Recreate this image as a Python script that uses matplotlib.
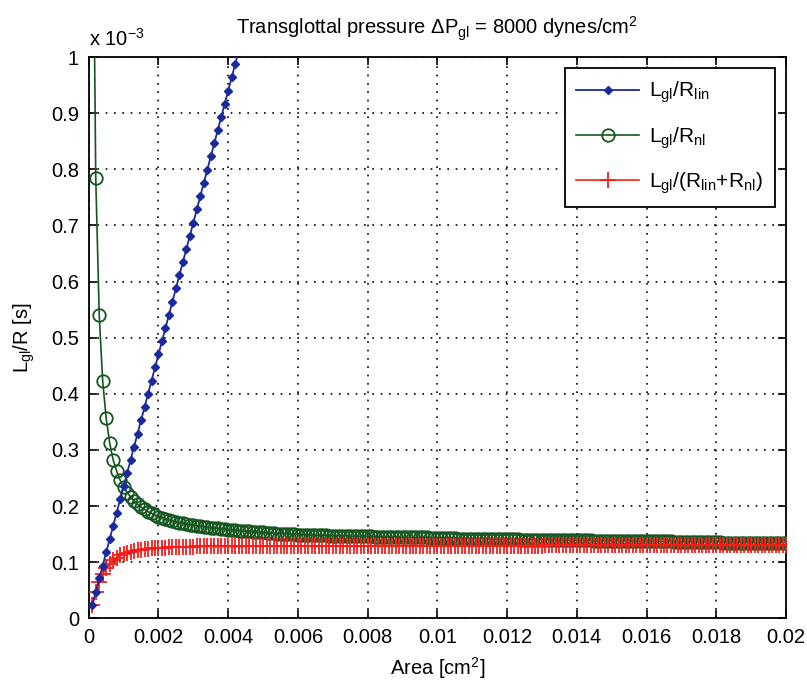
import numpy as np
import matplotlib
matplotlib.use('Agg')
import matplotlib.pyplot as plt
from matplotlib.ticker import FuncFormatter

plt.rcParams['font.family'] = ['Liberation Sans', 'DejaVu Sans']
plt.rcParams['mathtext.fontset'] = 'custom'
plt.rcParams['mathtext.rm'] = 'Liberation Sans'

# glottal area samples [cm^2], step 1e-4
area = np.arange(1, 201) * 1e-4

# L_gl/R_lin [x 1e-3 s] -- only the part up to the top of the axes
lin = [0.024, 0.047, 0.071, 0.094, 0.118, 0.141, 0.165, 0.188, 0.212, 0.235,
       0.259, 0.282, 0.306, 0.329, 0.353, 0.376, 0.400, 0.423, 0.447, 0.470,
       0.494, 0.517, 0.541, 0.564, 0.588, 0.611, 0.635, 0.658, 0.682, 0.705,
       0.729, 0.752, 0.776, 0.799, 0.823, 0.846, 0.870, 0.893, 0.917, 0.940,
       0.964, 0.987, 1.011]

# L_gl/R_nl [x 1e-3 s]
nl = [1.450, 0.785, 0.540, 0.422, 0.356, 0.312, 0.282, 0.262, 0.246, 0.234,
      0.224, 0.216, 0.209, 0.203, 0.198, 0.194, 0.190, 0.187, 0.184, 0.181,
      0.179, 0.177, 0.175, 0.173, 0.172, 0.170, 0.169, 0.168, 0.167, 0.166,
      0.165, 0.164, 0.163, 0.162, 0.161, 0.161, 0.160, 0.159, 0.159, 0.158,
      0.157, 0.157, 0.156, 0.156, 0.155, 0.155, 0.154, 0.154, 0.153, 0.153,
      0.152, 0.152, 0.152, 0.151, 0.151, 0.151, 0.150, 0.150, 0.150, 0.149,
      0.149, 0.149, 0.149, 0.148, 0.148, 0.148, 0.148, 0.148, 0.147, 0.147,
      0.147, 0.147, 0.147, 0.147, 0.146, 0.146, 0.146, 0.146, 0.146, 0.146,
      0.146, 0.145, 0.145, 0.145, 0.145, 0.145, 0.145, 0.145, 0.145, 0.144,
      0.144, 0.144, 0.144, 0.144, 0.144, 0.144, 0.144, 0.143, 0.143, 0.143,
      0.143, 0.143, 0.143, 0.143, 0.143, 0.142, 0.142, 0.142, 0.142, 0.142,
      0.142, 0.142, 0.142, 0.142, 0.141, 0.141, 0.141, 0.141, 0.141, 0.141,
      0.141, 0.141, 0.141, 0.140, 0.140, 0.140, 0.140, 0.140, 0.140, 0.140,
      0.140, 0.140, 0.140, 0.139, 0.139, 0.139, 0.139, 0.139, 0.139, 0.139,
      0.139, 0.139, 0.139, 0.139, 0.138, 0.138, 0.138, 0.138, 0.138, 0.138,
      0.138, 0.138, 0.138, 0.138, 0.138, 0.137, 0.137, 0.137, 0.137, 0.137,
      0.137, 0.137, 0.137, 0.137, 0.137, 0.137, 0.137, 0.136, 0.136, 0.136,
      0.136, 0.136, 0.136, 0.136, 0.136, 0.136, 0.136, 0.136, 0.136, 0.136,
      0.136, 0.135, 0.135, 0.135, 0.135, 0.135, 0.135, 0.135, 0.135, 0.135,
      0.135, 0.135, 0.135, 0.135, 0.135, 0.135, 0.135, 0.135, 0.135, 0.135]

# L_gl/(R_lin+R_nl) [x 1e-3 s]
tot = [0.023, 0.046, 0.065, 0.079, 0.089, 0.097, 0.103, 0.108, 0.112, 0.115,
       0.117, 0.119, 0.120, 0.121, 0.122, 0.123, 0.124, 0.1245, 0.125, 0.1255,
       0.126, 0.126, 0.1265, 0.1265, 0.127, 0.127, 0.127, 0.1275, 0.1275, 0.1275,
       0.128, 0.128, 0.128, 0.128, 0.128, 0.128, 0.128, 0.128, 0.128, 0.128,
       0.128, 0.128, 0.128, 0.128, 0.1285, 0.1285, 0.1285, 0.1285, 0.1285, 0.1285,
       0.1285, 0.1285, 0.1285, 0.1285, 0.1285, 0.1285, 0.1285, 0.1285, 0.129, 0.129,
       0.129, 0.129, 0.129, 0.129, 0.129, 0.129, 0.129, 0.129, 0.129, 0.129,
       0.129, 0.129, 0.129, 0.129, 0.129, 0.129, 0.129, 0.129, 0.129, 0.129,
       0.129, 0.129, 0.129, 0.129, 0.129, 0.129, 0.129, 0.129, 0.129, 0.129,
       0.129, 0.129, 0.129, 0.129, 0.129, 0.129, 0.129, 0.129, 0.129, 0.129,
       0.129, 0.129, 0.129, 0.129, 0.129, 0.129, 0.129, 0.129, 0.129, 0.129,
       0.1295, 0.1295, 0.1295, 0.1295, 0.1295, 0.1295, 0.1295, 0.1295, 0.1295, 0.1295,
       0.1295, 0.1295, 0.1295, 0.1295, 0.1295, 0.1295, 0.1295, 0.1295, 0.1295, 0.1295,
       0.130, 0.130, 0.130, 0.130, 0.130, 0.130, 0.130, 0.130, 0.130, 0.130,
       0.130, 0.130, 0.130, 0.130, 0.130, 0.130, 0.130, 0.130, 0.130, 0.130,
       0.130, 0.130, 0.130, 0.130, 0.130, 0.130, 0.130, 0.130, 0.130, 0.130,
       0.1305, 0.1305, 0.1305, 0.1305, 0.1305, 0.1305, 0.1305, 0.1305, 0.1305, 0.1305,
       0.1305, 0.1305, 0.1305, 0.1305, 0.1305, 0.1305, 0.1305, 0.1305, 0.1305, 0.1305,
       0.131, 0.131, 0.131, 0.131, 0.131, 0.131, 0.131, 0.131, 0.131, 0.131,
       0.131, 0.131, 0.131, 0.131, 0.131, 0.131, 0.131, 0.131, 0.131, 0.131]

fig = plt.figure(figsize=(8.07, 6.87), dpi=100)
ax = fig.add_axes([0.110, 0.100, 0.864, 0.817])

ax.plot(area[:len(lin)], lin, color='#1a2a9c', lw=1.3, marker='D', ms=4.5,
        label=r'$\mathregular{L_{gl}/R_{lin}}$', zorder=4)
ax.plot(area, nl, color='#15561f', lw=1.2, marker='o', ms=9, mfc='none',
        mew=1.3, label=r'$\mathregular{L_{gl}/R_{nl}}$', zorder=3)
ax.plot(area, tot, color='#ff1a1a', lw=1.2, marker='+', ms=12, mew=1.3,
        label=r'$\mathregular{L_{gl}/(R_{lin}{+}R_{nl})}$', zorder=3)

ax.set_xlim(0, 0.02)
ax.set_ylim(0, 1.0)
ax.set_xticks(np.arange(0, 0.0201, 0.002))
ax.set_yticks(np.arange(0, 1.01, 0.1))
ax.xaxis.set_major_formatter(FuncFormatter(lambda v, p: '%g' % round(v, 4)))
ax.yaxis.set_major_formatter(FuncFormatter(lambda v, p: '%g' % round(v, 2)))
ax.tick_params(direction='in', top=True, right=True, length=6, width=1.2,
               labelsize=14.5, pad=7)
ax.grid(True, color='black', ls=(0, (1, 4)), lw=1.2)
for s in ax.spines.values():
    s.set_linewidth(1.3)

ax.set_xlabel(r'Area [cm$^\mathregular{2}$]', fontsize=14.5, labelpad=6)
ax.set_ylabel(r'$\mathregular{L_{gl}}$/R [s]', fontsize=14.5, labelpad=10)
ax.set_title(r'Transglottal pressure $\mathregular{\Delta P_{gl}}$ = 8000 dynes/cm$^\mathregular{2}$',
             fontsize=14.5, pad=16)
ax.text(0, 1.012, r'x 10$^\mathregular{-3}$', transform=ax.transAxes,
        fontsize=14.5, va='bottom', ha='left')

leg = ax.legend(loc='upper right', fontsize=15, fancybox=False, framealpha=1,
                edgecolor='black', borderaxespad=0.55, handlelength=3.0,
                labelspacing=0.95, borderpad=0.55, handletextpad=0.5)
leg.get_frame().set_linewidth(1.3)

fig.savefig('out.png', dpi=100)
